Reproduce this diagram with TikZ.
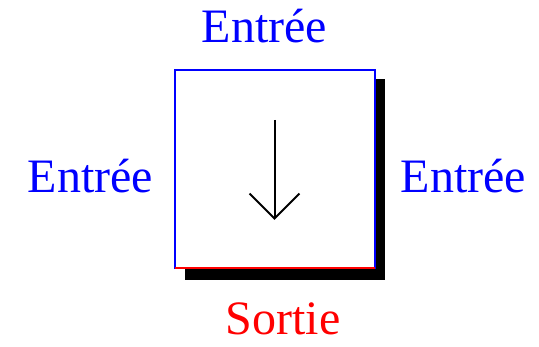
\documentclass[tikz,border=0pt]{standalone}
\usepackage{fontspec}
\setmainfont{Liberation Serif}
\usetikzlibrary{arrows.meta}
\begin{document}
\begin{tikzpicture}[x=1pt,y=-1pt,
  lbl/.style={anchor=base,inner sep=0pt,font=\fontsize{48}{50}\selectfont},
  edge/.style={line width=2pt}]
\useasboundingbox (0,0) rectangle (539,347);
% shadow
\fill[black] (184.5,79.5) rectangle (385,280);
% box
\fill[white] (174.5,70) rectangle (374.5,268.5);
\coordinate (tl) at (174.5,70);
\coordinate (tr) at (374.5,70);
\coordinate (bl) at (174.5,268.5);
\coordinate (br) at (374.5,268.5);
\draw[edge,blue,line cap=rect] (bl) -- (tl) -- (tr) -- (br);
\draw[edge,red] (bl) -- (br);
% arrow
\coordinate (as) at (274.5,120);
\coordinate (ae) at (274.5,220);
\draw[line width=2pt,-{Straight Barb[length=25pt,width=50pt,line width=2pt]}] (as) -- (ae);
% labels
\node[lbl,text=blue] (top) at (264.5,43) {Entrée};
\node[lbl,text=blue] (left) at (90.5,193) {Entrée};
\node[lbl,text=blue] (right) at (463.5,193) {Entrée};
\node[lbl,text=red] (bot) at (283,335) {Sortie};
\end{tikzpicture}
\end{document}
